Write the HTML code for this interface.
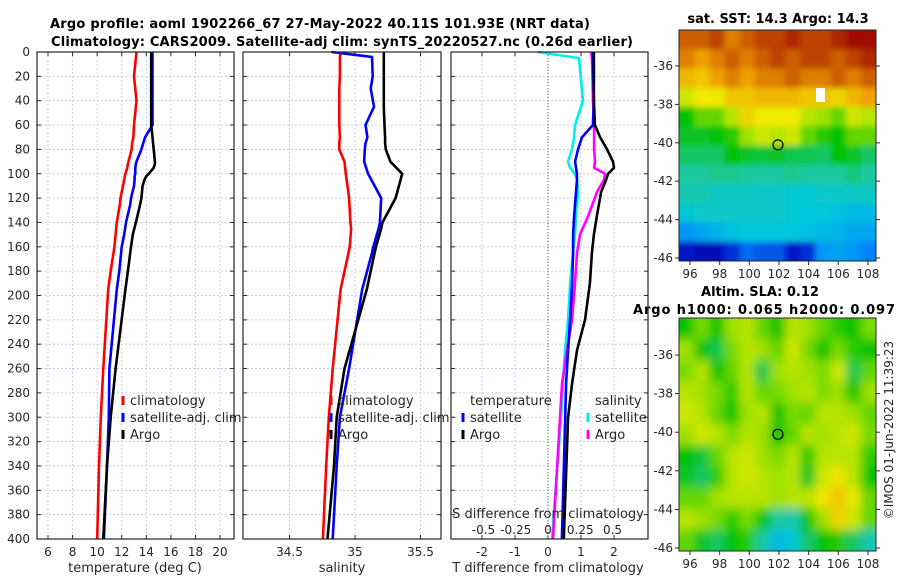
<!DOCTYPE html>
<html><head><meta charset="utf-8"><style>
html,body{margin:0;padding:0;background:#fff}
svg{display:block;font-family:"DejaVu Sans","Liberation Sans",sans-serif}
</style></head><body>
<svg id="c" width="900" height="580" viewBox="0 0 900 580" xmlns="http://www.w3.org/2000/svg">
<defs>
<filter id="blur1" x="0" y="0" width="1" height="1"><feGaussianBlur stdDeviation="3"/></filter>
<filter id="blur2" x="0" y="0" width="1" height="1"><feGaussianBlur stdDeviation="5"/></filter>
<clipPath id="m1clip"><rect x="679" y="30" width="197" height="231"/></clipPath>
<clipPath id="m2clip"><rect x="679" y="318" width="197" height="233"/></clipPath>
</defs>
<text x="320" y="28" text-anchor="middle" font-weight="bold" font-size="13" textLength="540">Argo profile: aoml 1902266_67 27-May-2022 40.11S 101.93E (NRT data)</text>
<text x="342" y="46" text-anchor="middle" font-weight="bold" font-size="13" textLength="582">Climatology: CARS2009. Satellite-adj clim: synTS_20220527.nc (0.26d earlier)</text>
<text x="778" y="23" text-anchor="middle" font-weight="bold" font-size="13">sat. SST: 14.3 Argo: 14.3</text>
<text x="760" y="296" text-anchor="middle" font-weight="bold" font-size="13">Altim. SLA: 0.12</text>
<text x="764" y="314" text-anchor="middle" font-weight="bold" font-size="13" textLength="262">Argo h1000: 0.065 h2000: 0.097</text>
<text transform="translate(893,430) rotate(-90)" text-anchor="middle" font-size="12" fill="#262626">©IMOS 01-Jun-2022 11:39:23</text>
</svg>
<script>
// ---- profile data (depth in m) ----
const tempDepth = [0,20,40,60,70,75,80,90,92,95,100,102,105,110,120,125,140,150,160,180,195,260,300,340,400];
const tempClim  = [13.2,13.0,13.2,13.0,12.95,12.85,12.8,12.55,12.5,12.45,12.3,12.25,12.2,12.1,11.9,11.85,11.6,11.5,11.4,11.1,10.9,10.5,10.3,10.15,10.0];
const tempSat   = [14.5,14.5,14.5,14.5,13.9,13.75,13.6,13.2,13.15,13.1,13.1,13.05,13.05,13.0,12.75,12.7,12.35,12.2,12.0,11.8,11.6,11.0,10.95,10.8,10.55];
const tempArgo  = [14.4,14.4,14.4,14.4,14.5,14.55,14.6,14.7,14.7,14.6,14.2,14.0,13.85,13.7,13.6,13.5,13.15,12.9,12.75,12.5,12.3,11.5,11.1,10.8,10.5];

const salDepth = [0,4,20,30,45,60,70,75,80,90,100,120,140,145,160,165,195,260,280,300,340,400];
const salClim  = [34.89,34.885,34.885,34.88,34.88,34.88,34.885,34.88,34.88,34.92,34.93,34.955,34.965,34.97,34.96,34.95,34.89,34.83,34.815,34.80,34.78,34.755];
const salSat   = [34.82,35.13,35.135,35.12,35.145,35.08,35.095,35.08,35.075,35.07,35.1,35.2,35.19,35.18,35.14,35.13,35.055,34.955,34.92,34.885,34.86,34.83];
const salArgo  = [35.22,35.22,35.22,35.22,35.22,35.225,35.23,35.23,35.235,35.27,35.36,35.31,35.21,35.2,35.16,35.15,35.09,34.92,34.89,34.86,34.84,34.79];

const diffDepth = [0,5,40,60,70,80,90,95,100,105,115,135,150,165,190,220,245,272,300,400];
const dTargo = [1.39,1.39,1.39,1.42,1.58,1.79,1.97,2.0,1.82,1.76,1.61,1.48,1.39,1.33,1.27,1.12,0.88,0.73,0.61,0.48];
const dTsat  = [1.36,1.36,1.39,1.36,1.03,0.91,0.82,0.85,0.88,0.88,0.85,0.79,0.76,0.76,0.73,0.67,0.61,0.55,0.52,0.42];
const dSargo = [0.333,0.341,0.349,0.357,0.357,0.357,0.364,0.357,0.442,0.434,0.38,0.31,0.248,0.225,0.209,0.186,0.147,0.109,0.093,0.039];
const dSsat  = [-0.078,0.24,0.271,0.209,0.202,0.186,0.155,0.171,0.209,0.225,0.233,0.217,0.209,0.194,0.171,0.155,0.132,0.116,0.101,0.031];

const depthTicks = [0,20,40,60,80,100,120,140,160,180,200,220,240,260,280,300,320,340,360,380,400];
const tempTicks = [6,8,10,12,14,16,18,20];
const salTicks = [34.5,35,35.5];
const salTickLabels = ["34.5","35","35.5"];
const dTTicks = [-2,-1,0,1,2];
const dSTicks = [-0.5,-0.25,0,0.25,0.5];
const dSTickLabels = ["-0.5","-0.25","0","0.25","0.5"];

// ---- map data (colour-scale fraction 0..1, rows north->south) ----
const sstGrid = [
[0.85,0.85,0.9,0.8,0.85,0.9,0.9,0.95,0.9,0.9,0.95,1,1],
[0.8,0.75,0.8,0.85,0.8,0.85,0.9,0.85,0.9,0.9,0.85,0.9,0.95],
[0.72,0.7,0.75,0.8,0.75,0.8,0.8,0.85,0.8,0.8,0.85,0.8,0.85],
[0.62,0.65,0.65,0.7,0.7,0.72,0.72,0.72,0.7,0.7,0.68,0.72,0.75],
[0.5,0.55,0.55,0.6,0.68,0.65,0.65,0.65,0.6,0.58,0.55,0.62,0.6],
[0.48,0.48,0.5,0.52,0.58,0.62,0.6,0.62,0.55,0.52,0.5,0.55,0.55],
[0.45,0.45,0.45,0.5,0.48,0.47,0.48,0.46,0.46,0.45,0.5,0.48,0.45],
[0.42,0.42,0.43,0.43,0.42,0.42,0.42,0.43,0.42,0.42,0.42,0.44,0.42],
[0.4,0.4,0.38,0.38,0.38,0.37,0.37,0.36,0.36,0.37,0.37,0.38,0.38],
[0.36,0.37,0.37,0.37,0.37,0.37,0.37,0.36,0.35,0.35,0.34,0.33,0.33],
[0.28,0.3,0.32,0.34,0.35,0.35,0.35,0.35,0.34,0.33,0.32,0.3,0.3],
[0.12,0.1,0.1,0.15,0.22,0.2,0.2,0.12,0.15,0.28,0.3,0.28,0.25]];
const slaGrid = [
[0.5,0.56,0.5,0.58,0.6,0.55,0.5,0.6,0.58,0.55,0.52,0.5,0.56],
[0.58,0.5,0.46,0.56,0.6,0.58,0.55,0.62,0.56,0.5,0.56,0.52,0.5],
[0.56,0.6,0.5,0.55,0.6,0.46,0.58,0.6,0.58,0.56,0.62,0.46,0.55],
[0.6,0.58,0.56,0.52,0.6,0.55,0.56,0.58,0.6,0.56,0.58,0.5,0.58],
[0.62,0.6,0.55,0.5,0.58,0.6,0.5,0.56,0.55,0.6,0.6,0.58,0.55],
[0.58,0.62,0.6,0.56,0.6,0.58,0.5,0.55,0.6,0.58,0.6,0.62,0.56],
[0.5,0.47,0.55,0.6,0.62,0.58,0.56,0.6,0.52,0.6,0.6,0.6,0.52],
[0.48,0.45,0.52,0.6,0.62,0.6,0.58,0.6,0.48,0.62,0.66,0.6,0.5],
[0.55,0.55,0.58,0.6,0.6,0.6,0.58,0.6,0.6,0.66,0.7,0.64,0.55],
[0.6,0.58,0.56,0.52,0.56,0.5,0.42,0.4,0.5,0.58,0.68,0.62,0.55],
[0.55,0.48,0.45,0.5,0.52,0.42,0.33,0.36,0.45,0.5,0.52,0.45,0.4]];

const NS="http://www.w3.org/2000/svg";
const svg=document.getElementById('c');
function mk(tag,attrs,parent){const e=document.createElementNS(NS,tag);for(const k in attrs)e.setAttribute(k,attrs[k]);(parent||svg).appendChild(e);return e;}

const Y0=52,Y1=539;
function yD(d){return Y0+d*(Y1-Y0)/400;}
function xT(t){return 48+(t-6)*12.29;}
function xS(s){return 355+(s-35)*131;}
function xDT(v){return 548+v*33;}
function xDS(v){return 548+v*129;}

function frame(x0,x1,name){
  depthTicks.forEach(d=>{
    const g=mk('line',{x1:x0,x2:x1,y1:yD(d),y2:yD(d),stroke:'#b8c4e8','stroke-width':0.8,'stroke-dasharray':'2,2'});
    
    
    const t1=mk('line',{x1:x0,x2:x0+4,y1:yD(d),y2:yD(d),stroke:'#262626'});
    
    
    const t2=mk('line',{x1:x1-4,x2:x1,y1:yD(d),y2:yD(d),stroke:'#262626'});
    
    
  });
}
function vgrid(x,name){
  const g=mk('line',{x1:x,x2:x,y1:Y0,y2:Y1,stroke:'#b8c4e8','stroke-width':0.8,'stroke-dasharray':'2,2'});
  
  
  const t1=mk('line',{x1:x,x2:x,y1:Y1-4,y2:Y1,stroke:'#262626'});
  
  
  const t2=mk('line',{x1:x,x2:x,y1:Y0,y2:Y0+4,stroke:'#262626'});
  
  
}
function box(x0,x1,name){
  const r=mk('rect',{x:x0,y:Y0,width:x1-x0,height:Y1-Y0,fill:'none',stroke:'#262626','stroke-width':1.2});
  
  
}
function label(x,y,txt,anchor,size,name){
  const t=mk('text',{x:x,y:y,'text-anchor':anchor||'middle','font-size':size||12,fill:'#262626'});
  t.textContent=txt;
  
  
  return t;
}
function line(depths,vals,xf,color,name){
  const pts=depths.map((d,i)=>xf(vals[i]).toFixed(1)+','+yD(d).toFixed(1)).join(' ');
  const p=mk('polyline',{points:pts,fill:'none',stroke:color,'stroke-width':2.6,'stroke-linejoin':'round'});
  
  
}
function legend(x,y,color,txt,name){
  const m=mk('line',{x1:x,x2:x,y1:y-9,y2:y,stroke:color,'stroke-width':3});
  
  
  const t=label(x+7,y,txt,'start',13,name);
  
}

// Panel 1: temperature
frame(37,234,'temp-panel');
tempTicks.forEach(t=>{vgrid(xT(t),'temp-panel');label(xT(t),556,String(t),'middle',12,'temp-x-tick-label');});
depthTicks.forEach(d=>label(30,yD(d)+4,String(d),'end',12,'depth-tick-label'));
line(tempDepth,tempClim,xT,'#ff0000','temp-climatology-line');
line(tempDepth,tempSat,xT,'#0000ff','temp-satellite-line');
line(tempDepth,tempArgo,xT,'#000000','temp-argo-line');
box(37,234,'temp-panel');
label(135,572,'temperature (deg C)','middle',13,'temp-x-axis-title');
legend(123,405,'#ff0000','climatology','temp-legend-climatology');
legend(123,422,'#0000ff','satellite-adj. clim','temp-legend-satellite');
legend(123,439,'#000000','Argo','temp-legend-argo');

// Panel 2: salinity
frame(243,441,'sal-panel');
salTicks.forEach((s,i)=>{vgrid(xS(s),'sal-panel');label(xS(s),556,salTickLabels[i],'middle',12,'sal-x-tick-label');});
line(salDepth,salClim,xS,'#ff0000','sal-climatology-line');
line(salDepth,salSat,xS,'#0000ff','sal-satellite-line');
line(salDepth,salArgo,xS,'#000000','sal-argo-line');
box(243,441,'sal-panel');
label(342,572,'salinity','middle',13,'sal-x-axis-title');
legend(331,405,'#ff0000','climatology','sal-legend-climatology');
legend(331,422,'#0000ff','satellite-adj. clim','sal-legend-satellite');
legend(331,439,'#000000','Argo','sal-legend-argo');

// Panel 3: differences
frame(451,648,'diff-panel');
dTTicks.forEach(v=>{vgrid(xDT(v),'diff-panel');label(xDT(v),556,String(v),'middle',12,'dT-x-tick-label');});
const z=mk('line',{x1:xDT(0),x2:xDT(0),y1:Y0,y2:Y1,stroke:'#55603a','stroke-width':1,'stroke-dasharray':'1,2'});


line(diffDepth,dSsat,xDS,'#00eeee','dS-satellite-line');
line(diffDepth,dSargo,xDS,'#ff00ff','dS-argo-line');
line(diffDepth,dTsat,xDT,'#0000ff','dT-satellite-line');
line(diffDepth,dTargo,xDT,'#000000','dT-argo-line');
box(451,648,'diff-panel');
label(548,518,'S difference from climatology','middle',13,'dS-axis-title');
dSTicks.forEach((v,i)=>label(xDS(v),534,dSTickLabels[i],'middle',12,'dS-tick-label'));
label(548,572,'T difference from climatology','middle',13,'dT-x-axis-title');
label(470,405,'temperature','start',13,'diff-legend-temperature-heading');
legend(463,422,'#0000ff','satellite','diff-legend-temp-satellite');
legend(463,439,'#000000','Argo','diff-legend-temp-argo');
label(595,405,'salinity','start',13,'diff-legend-salinity-heading');
legend(588,422,'#00eeee','satellite','diff-legend-sal-satellite');
legend(588,439,'#ff00ff','Argo','diff-legend-sal-argo');

// ---- maps ----
const cmapStops=[[0,[0,0,110]],[0.12,[0,20,200]],[0.25,[0,130,255]],[0.35,[0,200,220]],[0.42,[30,200,160]],[0.5,[0,195,0]],[0.58,[160,225,0]],[0.65,[240,235,0]],[0.75,[240,160,0]],[0.85,[205,95,0]],[1,[160,10,0]]];
function cmap(v){
  v=Math.max(0,Math.min(1,v));
  for(let i=1;i<cmapStops.length;i++){
    const a=cmapStops[i-1],b=cmapStops[i];
    if(v<=b[0]){const f=(v-a[0])/(b[0]-a[0]);const c=a[1].map((x,k)=>Math.round(x+(b[1][k]-x)*f));return 'rgb('+c.join(',')+')';}
  }
  return 'rgb(160,10,0)';
}
function mapPanel(grid,x0,y0,w,h,clip,filt,name){
  const g=mk('g',{'clip-path':'url(#'+clip+')'});
  
  
  const inner=mk('g',{filter:'url(#'+filt+')'},g);
  const rows=grid.length,cols=grid[0].length;
  const cw=w/cols,ch=h/rows;
  grid.forEach((row,i)=>row.forEach((v,j)=>{
    const c=mk('rect',{x:x0+j*cw-(j==0?10:0),y:y0+i*ch-(i==0?10:0),width:cw+0.6+(j==0||j==cols-1?10:0),height:ch+0.6+(i==0||i==rows-1?10:0),fill:cmap(v)},inner);
    
    
  }));
}
const lonTicks=[96,98,100,102,104,106,108];
const latTicks=[-36,-38,-40,-42,-44,-46];
function mapAxes(x0,x1,y0,y1,latY,name){
  const lonX=l=>690+(l-96)*14.83;
  const f=mk('rect',{x:x0,y:y0,width:x1-x0,height:y1-y0,fill:'none',stroke:'#262626','stroke-width':1});
  
  
  lonTicks.forEach(l=>{
    const t=mk('line',{x1:lonX(l),x2:lonX(l),y1:y1,y2:y1+4,stroke:'#262626'});
    
    
    label(lonX(l),y1+17,String(l),'middle',12,name+'-lon-label');
  });
  latTicks.forEach(l=>{
    const y=latY(l);
    const t=mk('line',{x1:x0-4,x2:x0,y1:y,y2:y,stroke:'#262626'});
    
    
    const t2=mk('line',{x1:x1,x2:x1+4,y1:y,y2:y,stroke:'#262626'});
    
    
    label(x0-6,y+4,String(l),'end',12,name+'-lat-label');
  });
  const c=mk('circle',{cx:lonX(101.93),cy:latY(-40.11),r:5,fill:'none',stroke:'#000','stroke-width':1.2});
  
  
}
mapPanel(sstGrid,679,30,197,231,'m1clip','blur1','sst-map');
const ws=mk('rect',{x:816,y:88,width:9,height:14,fill:'#fff'});


mapAxes(679,876,30,261,l=>66+(-36-l)*19.2,'sst-map');
mapPanel(slaGrid,679,318,197,233,'m2clip','blur2','sla-map');
mapAxes(679,876,318,551,l=>355+(-36-l)*19.3,'sla-map');
</script>
</body></html>
